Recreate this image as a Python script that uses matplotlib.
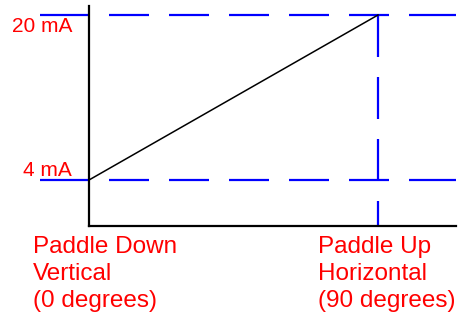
import matplotlib
matplotlib.use("Agg")
import matplotlib.pyplot as plt

plt.rcParams["lines.scale_dashes"] = False

# Data
x_vals = [0, 90]
y_vals = [4, 20]
y_labels = ["20 mA", "4 mA"]
y_label_vals = [20, 4]
x_labels = ["Paddle Down\nVertical\n(0 degrees)", "Paddle Up\nHorizontal\n(90 degrees)"]
x_label_vals = [0, 90]

DPI = 100
W, H = 459, 323
fig = plt.figure(figsize=(W / DPI, H / DPI), dpi=DPI)
px = 72.0 / DPI  # points per pixel

# axes: left spine at x=89, bottom at y=226, top at y=6, right at x=456
ax = fig.add_axes([89 / W, (H - 226) / H, (456 - 89) / W, (226 - 6) / H])
ax.set_xlim(0, 90 * (456 - 89) / (378 - 89))
ppu = (180 - 15) / 16.0
ax.set_ylim(4 - (226 - 180) / ppu, 20 + (15 - 6) / ppu)

for s in ["top", "right"]:
    ax.spines[s].set_visible(False)
for s in ["left", "bottom"]:
    ax.spines[s].set_linewidth(1.6)
    ax.spines[s].set_color("black")
ax.set_xticks([])
ax.set_yticks([])

blue = "#0000ff"
hdash = [v * px for v in ([48, 21] + [40, 20] * 5 + [48, 20])]
x_start = -(89 - 40) / (378 - 89) * 90
for yv in y_label_vals:
    ln, = ax.plot([x_start, ax.get_xlim()[1]], [yv, yv], color=blue, lw=1.6,
                  clip_on=False, solid_capstyle="butt", dash_capstyle="butt")
    ln.set_dashes(hdash)
vdash = [42 * px, 20 * px]
ln, = ax.plot([x_vals[1], x_vals[1]], [y_vals[1], ax.get_ylim()[0]], color=blue,
              lw=1.6, clip_on=False, dash_capstyle="butt")
ln.set_dashes(vdash)

ax.plot(x_vals, y_vals, color="black", lw=1.1)

red = "#ff0000"
font = "Liberation Sans"
offs = {20: -12 * px, 4: 10 * px}
for lab, yv in zip(y_labels, y_label_vals):
    ax.annotate(lab, xy=(0, yv), xycoords="data",
                xytext=(-17 * px, offs[yv]), textcoords="offset points",
                ha="right", va="center", color=red, fontsize=15, family=font)

for lab, xv, dx in zip(x_labels, x_label_vals, [-56, -60]):
    ax.annotate(lab, xy=(xv, 0), xycoords=("data", "axes fraction"),
                xytext=(dx * px, -10 * px), textcoords="offset points",
                ha="left", va="top", color=red, fontsize=17.5, family=font,
                linespacing=1.3, annotation_clip=False)

fig.savefig("out.png", dpi=DPI)
